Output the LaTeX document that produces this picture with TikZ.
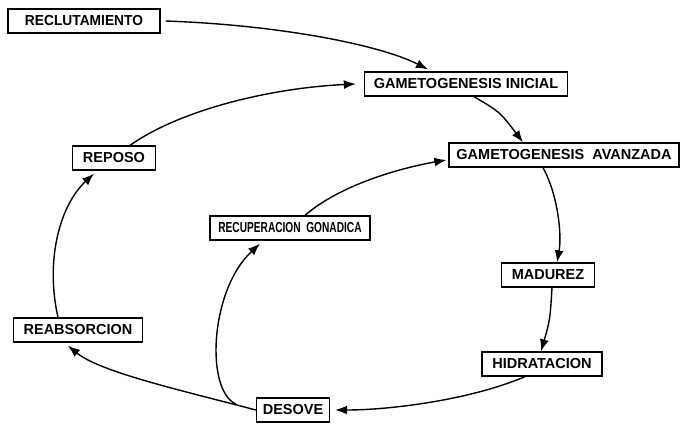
\documentclass[tikz,border=0pt]{standalone}
\usepackage{fontspec}
\setmainfont{Liberation Sans}
\usepackage{tikz}
\usetikzlibrary{calc}
\usetikzlibrary{arrows.meta}
\tikzstyle{etapa}=[draw, line width=1.3pt, minimum height=24pt, inner xsep=6pt,
                   inner ysep=0pt, font=\fontsize{14.5}{15}\selectfont\bfseries]
\tikzstyle{flecha}=[-{Latex[length=12pt,width=9pt]}, line width=1.4pt]
\newcommand{\angosto}[2]{\scalebox{#1}[1]{#2}}
\begin{document}
\begin{tikzpicture}[x=1pt,y=-1pt]
\useasboundingbox (0,0) rectangle (680,423);
\node[etapa, minimum width=152pt] (rec) at (84,21) {\angosto{0.95}{RECLUTAMIENTO}};
\node[etapa, minimum width=203pt] (gi) at (466,84) {GAMETOGENESIS INICIAL};
\node[etapa, minimum width=230pt] (ga) at (564,155) {GAMETOGENESIS \ AVANZADA};
\node[etapa, minimum width=83pt] (rep) at (114,158) {REPOSO};
\node[etapa, minimum width=160pt] (rg) at (290,228) {\angosto{0.7}{RECUPERACION \ GONADICA}};
\node[etapa, minimum width=93pt] (mad) at (548,275) {MADUREZ};
\node[etapa, minimum width=129pt] (reab) at (78,330) {REABSORCION};
\node[etapa, minimum width=120pt] (hid) at (542,364) {HIDRATACION};
\node[etapa, minimum width=73pt] (des) at (293,410) {DESOVE};
% ciclo
\draw[flecha] ($(rec.east)+(5,0)$) .. controls (280,25) and (380,45) .. ($(gi.north)+(-38,-2)$);
\draw[flecha] ($(rep.north)+(16,0)$) .. controls (180,110) and (270,88) .. ($(gi.west)+(-8,0)$);
\draw[flecha] ($(gi.south)+(8,0)$) .. controls (500,112) .. ($(ga.north)+(-41,0)$);
\draw[flecha] ($(ga.south)+(-21,0)$) .. controls (558,195) and (562,235) .. ($(mad.north)+(9,0)$);
\draw[flecha] ($(mad.south)+(4,0)$) .. controls (550,320) .. ($(hid.north)+(-1,0)$);
\draw[flecha] ($(hid.south)+(-17,0)$) .. controls (470,400) and (390,410) .. ($(des.east)+(5,0)$);
\draw[flecha] (des.west) .. controls (180,390) and (100,372) .. ($(reab.south)+(-10,3)$);
\draw[flecha] ($(des.west)+(-20,-6)$) .. controls (205,390) and (210,290) .. ($(rg.south)+(-30,3)$);
\draw[flecha] ($(rg.north)+(15,0)$) .. controls (340,185) and (400,168) .. ($(ga.west)+(-2,5)$);
\draw[flecha] ($(reab.north)+(-20,0)$) .. controls (45,260) and (60,205) .. ($(rep.south)+(-20,3)$);
\end{tikzpicture}
\end{document}
